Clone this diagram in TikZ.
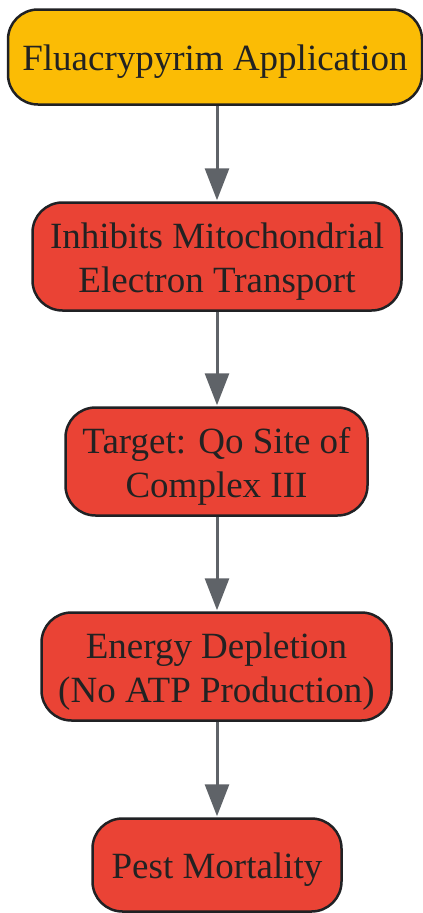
\documentclass[tikz,border=0pt]{standalone}
\usepackage{fontspec}
\setmainfont{Liberation Serif}
\usetikzlibrary{arrows.meta}
\definecolor{yel}{HTML}{FBBC05}
\definecolor{red}{HTML}{EA4335}
\definecolor{bord}{HTML}{202124}
\definecolor{arr}{HTML}{5F6368}
\definecolor{txt}{HTML}{222222}
\newcommand\boxtxt[1]{\raisebox{0pt}[\dimexpr\height+10pt\relax][\depth]{\begin{tabular}{@{}c@{}}#1\end{tabular}}}
\tikzset{
  box/.style={draw=bord, line width=2.5pt, rounded corners=30pt,
    text=txt, font=\fontsize{37}{44}\selectfont, inner sep=0pt},
  conn/.style={draw=arr, line width=3pt, -{Triangle[length=32pt,width=24pt]}}
}
\begin{document}
\begin{tikzpicture}[x=1pt,y=-1pt]
\useasboundingbox (0,0) rectangle (423,913);
\node[box, fill=yel, minimum width=414pt, minimum height=95pt] (n1) at (215,57) {\boxtxt{Fluacrypyrim Application}};
\node[box, fill=red, minimum width=369pt, minimum height=108pt] (n2) at (217,256.5) {\boxtxt{Inhibits Mitochondrial\\Electron Transport}};
\node[box, fill=red, minimum width=302pt, minimum height=108pt] (n3) at (216.5,461.5) {\boxtxt{Target: Qo Site of\\Complex III}};
\node[box, fill=red, minimum width=350pt, minimum height=108pt] (n4) at (216.5,666.5) {\boxtxt{Energy Depletion\\(No ATP Production)}};
\node[box, fill=red, minimum width=249pt, minimum height=93pt] (n5) at (217,865) {\boxtxt{Pest Mortality}};
\draw[conn] (n1.south -| 217,0) -- ([yshift=1pt]n2.north -| 217,0);
\draw[conn] (n2.south -| 217,0) -- ([yshift=1pt]n3.north -| 217,0);
\draw[conn] (n3.south -| 217,0) -- ([yshift=1pt]n4.north -| 217,0);
\draw[conn] (n4.south -| 217,0) -- ([yshift=1pt]n5.north -| 217,0);
\end{tikzpicture}
\end{document}
